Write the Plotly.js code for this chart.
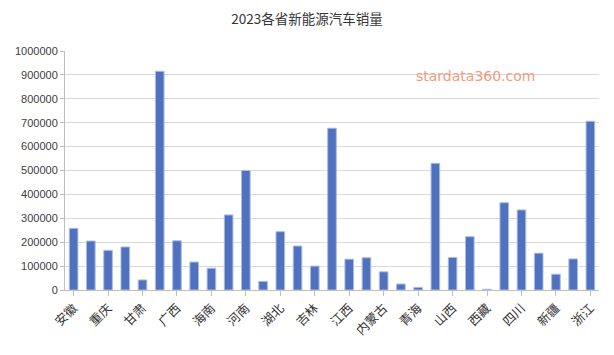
<!DOCTYPE html>
<html>
<head>
<meta charset="utf-8">
<script src="https://cdn.plot.ly/plotly-3.0.1.min.js"></script>
<style>html,body{margin:0;padding:0;background:#fff;}#chart{width:614px;height:355px;}</style>
</head>
<body>
<div id="chart"></div>
<script>
const provinces = ["安徽","北京","重庆","福建","甘肃","广东","广西","贵州","海南","河北","河南","黑龙江","湖北","湖南","吉林","江苏","江西","辽宁","内蒙古","宁夏","青海","山东","山西","陕西","西藏","上海","四川","天津","新疆","云南","浙江"];
const sales = [258000,205000,166000,180000,42000,915000,206000,117000,91000,314000,500000,36000,244000,184000,100000,677000,129000,135000,76000,25000,11000,530000,136000,223000,3000,365000,335000,154000,66000,130000,706000];
const yTicks = [0,100000,200000,300000,400000,500000,600000,700000,800000,900000,1000000];
const shownLabels = provinces.filter((p, i) => i % 2 === 0);

const trace = {
  type: 'bar',
  x: provinces,
  y: sales,
  marker: {color: '#4F71BE', line: {color: '#A9BCE6', width: 1}},
  hoverinfo: 'x+y'
};

const layout = {
  width: 614, height: 355,
  margin: {l: 65, r: 15, t: 51, b: 65},
  paper_bgcolor: '#fff', plot_bgcolor: '#fff',
  bargap: 0.5,
  showlegend: false,
  title: {text: '2023各省新能源汽车销量', x: 0.5, xanchor: 'center', y: 0.947, yanchor: 'middle',
          font: {family: '"Noto Sans CJK SC", sans-serif', size: 13.5, color: '#333333'}},
  xaxis: {
    type: 'category',
    range: [-0.5, provinces.length - 0.5],
    tickmode: 'array', tickvals: shownLabels, ticktext: shownLabels,
    tickangle: -45,
    ticks: 'outside', ticklen: 5, tickcolor: '#BFBFBF', tickwidth: 1,
    showline: true, linecolor: '#BFBFBF', linewidth: 1,
    showgrid: false,
    tickfont: {family: '"Noto Sans CJK SC", sans-serif', size: 12.5, color: '#333333'},
    fixedrange: true
  },
  yaxis: {
    range: [0, 1000000],
    tickmode: 'array', tickvals: yTicks, ticktext: yTicks.map(String),
    ticks: 'outside', ticklen: 4, tickcolor: '#BFBFBF',
    showline: true, linecolor: '#BFBFBF', linewidth: 1,
    showgrid: true, gridcolor: '#D9D9D9', gridwidth: 1,
    zeroline: false,
    tickfont: {family: '"Liberation Sans", Arial, sans-serif', size: 11, color: '#404040'},
    fixedrange: true
  },
  annotations: [{
    text: 'stardata360.com', xref: 'paper', yref: 'paper',
    x: 0.768, y: 0.895, xanchor: 'center', yanchor: 'middle', showarrow: false,
    font: {family: '"DejaVu Sans", sans-serif', size: 14, color: '#F59A7C'}
  }]
};

Plotly.newPlot('chart', [trace], layout, {staticPlot: true, displayModeBar: false});
</script>
</body>
</html>
